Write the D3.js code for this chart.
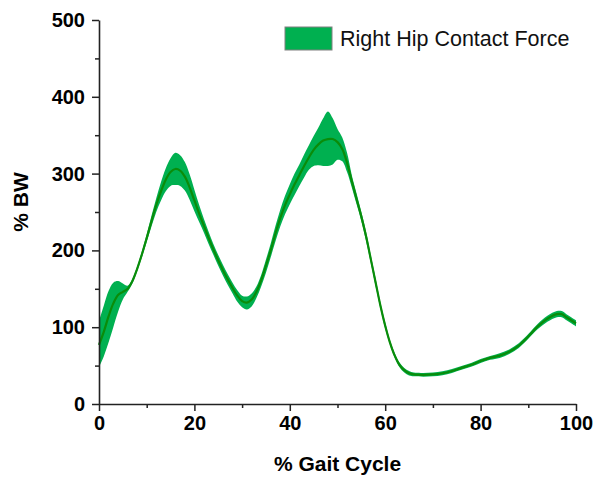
<html>
    <head>
        <script src="https://d3js.org/d3.v7.min.js"></script>
        <title>Right Hip Contact Force</title>
        <style>
            body { margin: 0; background: #fff; }
            text { font-family: Arial, "Liberation Sans", sans-serif; }
        </style>
    </head>
    <body>
        <div class="viz"></div>
        <script type="text/javascript">
            // % gait cycle
            var gait = [0,1,2,3,4,5,6,7,8,9,10,11,12,13,14,15,16,17,18,19,20,
                        21,22,23,24,25,26,27,28,29,30,31,32,33,34,35,36,37,38,39,40,
                        41,42,43,44,45,46,47,48,49,50,51,52,53,54,55,56,57,58,59,60,
                        61,62,63,64,65,66,68,70,72,74,76,78,80,82,84,86,88,90,92,94,96,97,98,99,100];
            // mean contact force (% BW)
            var meanForce = [77,94,114,131,142,146,150,160,176,195,216,238,259,277,292,302,306,304,296,282,265,
                             248,232,216,201,187,174,162,151,141,134,132,136,146,161,180,200,222,242,259,273,
                             286,298,310,321,331,338,343,345,345,341,332,314,290,267,244,218,188,158,128,102,
                             80,63,51,44,40,38.5,38,38.5,40,43,47,51,56,60,63,68,76,88,101,111,117,117,113,109,105];
            // band edges
            var upperForce = [108,128,147,158,160,157,154,163,179,199,221,245,268,289,307,320,327,324,315,299,279,
                              259,241,224,208,194,181,169,158,148,141,140,144,153,168,188,209,232,253,271,286,
                              300,312,325,337,349,360,372,381,372,358,347,327,298,274,250,224,193,163,132,106,
                              83,66,54,47,43,41,40.5,41,42.5,45.5,49.5,53.5,58.5,62.5,66,71,79,91,104.5,115,121,121,117,113,109];
            var lowerForce = [48,62,80,100,120,136,146,157,173,191,211,231,250,265,277,284,285,284,278,266,251,
                              237,223,208,194,180,167,155,144,133,126,123,127,138,153,171,191,212,231,247,260,
                              272,284,295,305,310,311,310,310,312,318,316,302,282,260,238,212,183,153,124,98,
                              77,60,48,41,37,36,35.5,36,37.5,40.5,44.5,48.5,53.5,57.5,60,65,73,85,97.5,107,113,113,109,105,101];
            var xTicks = [0, 20, 40, 60, 80, 100];
            var yTicks = [0, 100, 200, 300, 400, 500];
            var legendLabel = "Right Hip Contact Force";

            var vizWidth = 596;
            var vizHeight = 477;
            var plotLeft = 99, plotRight = 576, plotTop = 20, plotBottom = 404;

            var rows = gait.map(function(g, i){
                return {x: g, m: meanForce[i], hi: upperForce[i], lo: lowerForce[i]};
            });

            var xScale = d3.scaleLinear().domain([0, 100]).range([plotLeft, plotRight]);
            var yScale = d3.scaleLinear().domain([0, 500]).range([plotBottom, plotTop]);

            var svg = d3.select("div")
                        .append("svg")
                        .attr("width", vizWidth)
                        .attr("height", vizHeight);

            var band = d3.area()
                    .x(function(d){ return xScale(d.x); })
                    .y0(function(d){ return yScale(d.lo); })
                    .y1(function(d){ return yScale(d.hi); })
                    .curve(d3.curveCatmullRom.alpha(0.5));

            var line = d3.line()
                    .x(function(d){ return xScale(d.x); })
                    .y(function(d){ return yScale(d.m); })
                    .curve(d3.curveCatmullRom.alpha(0.5));

            svg.append("path")
                .datum(rows)
                .attr("d", band)
                .attr("fill", "#00b050");

            svg.append("path")
                .datum(rows)
                .attr("d", line)
                .attr("fill", "none")
                .attr("stroke", "#0a8c0a")
                .attr("stroke-width", 2.2);

            // minor ticks
            svg.append("g")
                .attr("transform", "translate(0," + plotBottom + ")")
                .call(d3.axisBottom(xScale).tickValues(d3.range(10, 100, 20)).tickSize(4).tickFormat(""))
                .call(function(g){ g.select(".domain").remove(); })
                .selectAll("line").attr("stroke", "#222").attr("stroke-width", 1.5);
            svg.append("g")
                .attr("transform", "translate(" + plotLeft + ",0)")
                .call(d3.axisLeft(yScale).tickValues(d3.range(50, 500, 100)).tickSize(4).tickFormat(""))
                .call(function(g){ g.select(".domain").remove(); })
                .selectAll("line").attr("stroke", "#222").attr("stroke-width", 1.5);

            var xAxis = svg.append("g")
                .attr("transform", "translate(0," + plotBottom + ")")
                .call(d3.axisBottom(xScale).tickValues(xTicks).tickSize(7).tickSizeOuter(0).tickPadding(5));
            var yAxis = svg.append("g")
                .attr("transform", "translate(" + plotLeft + ",0)")
                .call(d3.axisLeft(yScale).tickValues(yTicks).tickSize(7).tickSizeOuter(0).tickPadding(7));

            [xAxis, yAxis].forEach(function(a){
                a.select(".domain").attr("stroke", "#222").attr("stroke-width", 1.6);
                a.selectAll(".tick line").attr("stroke", "#222").attr("stroke-width", 1.5);
                a.selectAll(".tick text")
                    .attr("font-family", "Arial, 'Liberation Sans', sans-serif")
                    .attr("font-size", 20)
                    .attr("font-weight", "bold")
                    .attr("fill", "#000");
            });

            svg.append("text")
                .attr("x", (plotLeft + plotRight) / 2)
                .attr("y", 471)
                .attr("text-anchor", "middle")
                .attr("font-size", 21)
                .attr("font-weight", "bold")
                .text("% Gait Cycle");

            svg.append("text")
                .attr("transform", "translate(28," + 202 + ") rotate(-90)")
                .attr("text-anchor", "middle")
                .attr("font-size", 21)
                .attr("font-weight", "bold")
                .text("% BW");

            // legend
            svg.append("rect")
                .attr("x", 285).attr("y", 27)
                .attr("width", 47).attr("height", 23)
                .attr("fill", "#00b050")
                .attr("stroke", "#808080")
                .attr("stroke-width", 1);
            svg.append("text")
                .attr("x", 340).attr("y", 46)
                .attr("font-size", 21.5)
                .attr("fill", "#111")
                .text(legendLabel);
        </script>
    </body>
</html>
